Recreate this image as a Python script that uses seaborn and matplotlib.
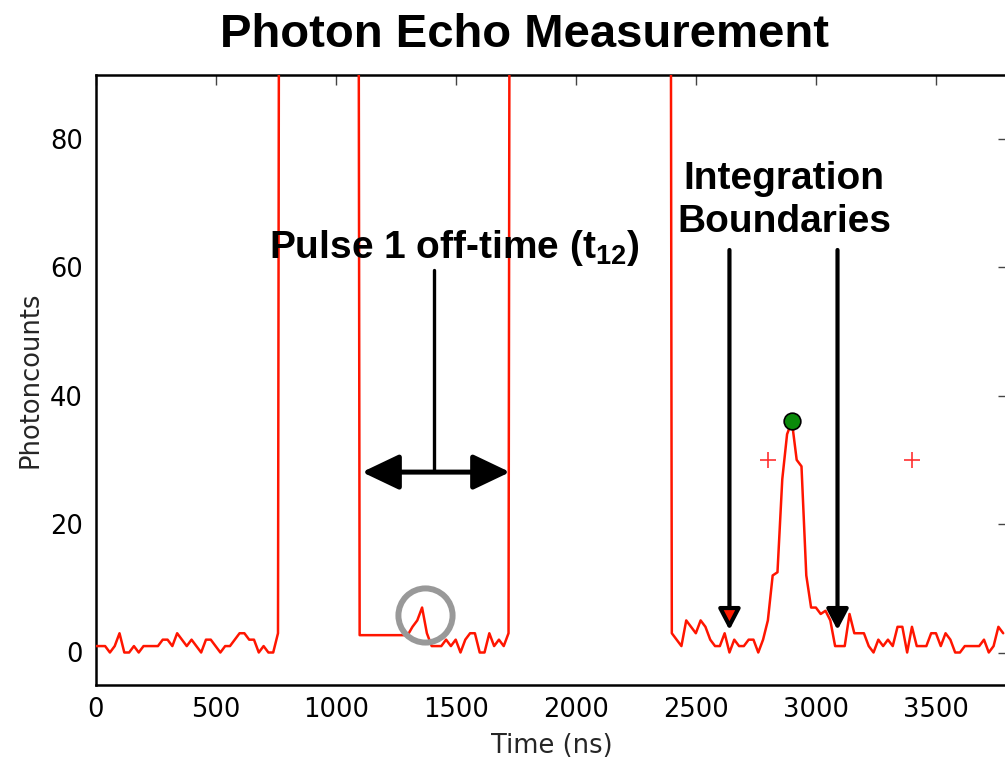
import numpy as np
import pandas as pd
import matplotlib
matplotlib.use("Agg")
import matplotlib.pyplot as plt
import seaborn as sns

# ---------------- data ----------------
time_ns = np.arange(0, 3800, 20)
PULSE = 500  # saturated detector during laser pulses
photon_counts = (
    [1, 1, 1, 0, 1, 3, 0, 0, 1, 0, 1, 1, 1, 1, 2, 2, 1, 3, 2, 1,
     2, 1, 0, 2, 2, 1, 0, 1, 1, 2, 3, 3, 2, 2, 0, 1, 0, 0]          # 0-740
    + [3]                                                           # 760
    + [PULSE] * 16                                                  # 780-1080
    + [2.7] * 11                                                    # 1100-1300
    + [4, 5, 7, 3, 1, 1, 1, 2, 1, 2, 0, 2, 3, 3, 0, 0, 3, 1, 2, 1, 3]  # 1320-1720
    + [PULSE] * 33                                                  # 1740-2380
    + [3, 2, 1, 5, 4, 3, 5, 4, 2, 1, 1, 3, 0, 2, 1, 1, 2, 2, 0, 2,   # 2400-2780
       5, 12, 12.5, 27, 34, 36, 30, 29, 12, 7,                      # 2800-2980
       7, 6, 6.5, 5, 1, 1, 1, 6, 3, 3, 3, 1, 0, 2, 1, 2, 1, 4, 4, 0,  # 3000-3380
       4, 1, 1, 1, 3, 3, 1, 3, 2, 0, 0, 1, 1, 1, 1, 2, 0, 1, 4, 3]    # 3400-3780
)
assert len(photon_counts) == len(time_ns)

peak_point = (2900, 36)
half_max_points_t = [2800, 3400]
half_max_points_y = [30, 30]
integration_bounds = [2640, 3090]
weak_echo_point = (1372, 5.9)
pulse_offtime = (1110, 1726)

title = "Photon Echo Measurement"
xlabel = "Time (ns)"
ylabel = "Photoncounts"
xticks = [0, 500, 1000, 1500, 2000, 2500, 3000, 3500]
yticks = [0, 20, 40, 60, 80]

df = pd.DataFrame({"t": time_ns, "counts": photon_counts})

# ---------------- style ----------------
sns.set_style("white")
plt.rcParams["font.family"] = ["DejaVu Sans"]
plt.rcParams["mathtext.fontset"] = "custom"
plt.rcParams["mathtext.bf"] = "Liberation Sans:bold"
plt.rcParams["mathtext.rm"] = "Liberation Sans:bold"

W, H = 1005, 762
fig = plt.figure(figsize=(W / 100, H / 100), dpi=100)
left_px, right_px, top_px, bot_px = 95.5, 1008, 74.7, 684.6
ax = fig.add_axes([left_px / W, 1 - bot_px / H, (right_px - left_px) / W, (bot_px - top_px) / H])

sns.lineplot(data=df, x="t", y="counts", ax=ax, color="#ff1500", lw=1.8, zorder=3)

ax.set_xlim(0, 3800)
ax.set_ylim(-5, 90)
ax.set_xticks(xticks)
ax.set_yticks(yticks)
ax.tick_params(direction="in", length=7, width=1.0, color="#444444", labelsize=18.5,
               top=True, right=True, pad=9, labelcolor="black")
for s in ax.spines.values():
    s.set_visible(True)
    s.set_color("black")
    s.set_linewidth(1.8)
ax.set_xlabel(xlabel, fontsize=18.5, labelpad=7)
ax.set_ylabel(ylabel, fontsize=18.5, labelpad=5)

# markers
ax.plot(*peak_point, marker="o", ms=12, mfc="#0a8a0a", mec="black", mew=1.2, zorder=6)
ax.plot(half_max_points_t, half_max_points_y, ls="none", marker="+", ms=12, mew=1.2,
        color="#ff3030", zorder=5)
ax.plot(*weak_echo_point, marker="o", ms=39, mfc="none", mec="#999999", mew=4.3, zorder=4)

bold = dict(family=["Liberation Sans", "DejaVu Sans"], fontweight="bold", color="black")

# pulse off-time annotation
ax.annotate("", xy=(pulse_offtime[0], 28.1), xytext=(pulse_offtime[1], 28.1),
            arrowprops=dict(arrowstyle="<|-|>,head_length=0.42,head_width=0.2",
                            mutation_scale=54, lw=3.6, color="black",
                            shrinkA=0, shrinkB=0), zorder=7)
ax.plot([1410, 1410], [28.4, 59.6], color="black", lw=2.4, zorder=7)
ax.text(1493, 61.4, r"Pulse 1 off-time (t$_{\mathbf{12}}$)", ha="center", va="baseline",
        fontsize=28, **bold)

# integration boundaries
ax.text(2868, 72.2, "Integration", ha="center", va="baseline", fontsize=28, **bold)
ax.text(2868, 65.5, "Boundaries", ha="center", va="baseline", fontsize=28, **bold)
for xb, fc in zip(integration_bounds, ["#ff1a00", "black"]):
    ax.annotate("", xy=(xb, 3.5), xytext=(xb, 62.7),
                arrowprops=dict(arrowstyle="-|>,head_length=0.42,head_width=0.22",
                                mutation_scale=30, lw=3.0, ec="black", fc=fc,
                                shrinkA=0, shrinkB=0), zorder=7)

fig.text(525 / W, 1 - 47 / H, title, ha="center", va="baseline", fontsize=34, **bold)

fig.savefig("out.png", dpi=100)
